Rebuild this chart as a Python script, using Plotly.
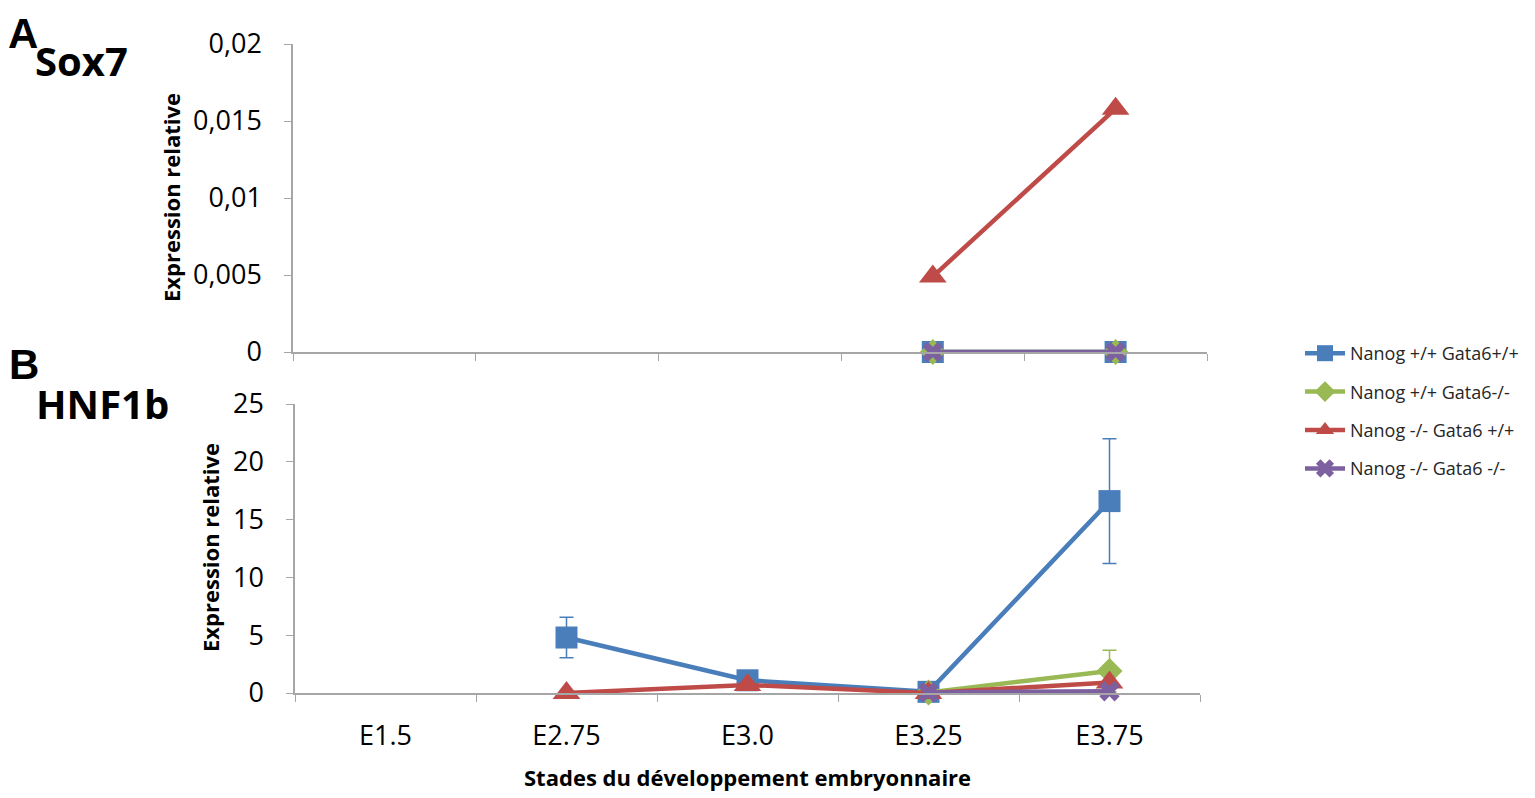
import plotly.graph_objects as go

stages = ["E1.5", "E2.75", "E3.0", "E3.25", "E3.75"]

# Sox7 (panel A)
sox7_stages = ["E3.25", "E3.75"]
sox7_wt = [0, 0]
sox7_gata6_ko = [0, 0]
sox7_nanog_ko = [0.0049, 0.0158]
sox7_double_ko = [0, 0]

# HNF1b (panel B)
hnf_wt_stages = ["E2.75", "E3.0", "E3.25", "E3.75"]
hnf_wt = [4.8, 1.1, 0.1, 16.6]
hnf_wt_err = [1.75, 0, 0, 5.4]
hnf_gata6_ko_stages = ["E3.25", "E3.75"]
hnf_gata6_ko = [0.05, 1.9]
hnf_gata6_ko_err = [0, 1.8]
hnf_nanog_ko_stages = ["E2.75", "E3.0", "E3.25", "E3.75"]
hnf_nanog_ko = [0, 0.7, 0, 0.9]
hnf_double_ko_stages = ["E3.25", "E3.75"]
hnf_double_ko = [0.05, 0.15]

names = ["Nanog +/+ Gata6+/+", "Nanog +/+ Gata6-/-", "Nanog -/- Gata6 +/+", "Nanog -/- Gata6 -/-"]
colors = ["#4a7ebb", "#98b954", "#be4b48", "#7d60a0"]
symbols = ["square", "diamond", "triangle-up", "x"]
msizes = [22, 20, 24, 18]

FONT = "Open Sans"
AXIS_COLOR = "#a6a6a6"
W, H = 1535, 798
OFF = 8  # page body margin


def px(x):
    return (x - OFF) / W


def py(y):
    return 1 - (y - OFF) / H


fig = go.Figure()


def add_series(x, y, i, xa, ya, err=None, legend=False):
    fig.add_trace(go.Scatter(
        x=x, y=y, mode="lines+markers", name=names[i],
        xaxis=xa, yaxis=ya, cliponaxis=False,
        line=dict(color=colors[i], width=4.5),
        marker=dict(symbol=symbols[i], size=msizes[i], color=colors[i],
                    line=dict(width=0)),
        error_y=dict(type="data", array=err, color=colors[i], thickness=1.5, width=7,
                     visible=err is not None),
        showlegend=legend, legendgroup=str(i),
    ))


# panel A
add_series(sox7_stages, sox7_wt, 0, "x", "y")
add_series(sox7_stages, sox7_gata6_ko, 1, "x", "y")
add_series(sox7_stages, sox7_nanog_ko, 2, "x", "y")
add_series(sox7_stages, sox7_double_ko, 3, "x", "y")

# panel B
add_series(hnf_wt_stages, hnf_wt, 0, "x2", "y2", hnf_wt_err, True)
add_series(hnf_gata6_ko_stages, hnf_gata6_ko, 1, "x2", "y2", hnf_gata6_ko_err, True)
add_series(hnf_nanog_ko_stages, hnf_nanog_ko, 2, "x2", "y2", None, True)
add_series(hnf_double_ko_stages, hnf_double_ko, 3, "x2", "y2", None, True)

xcommon = dict(
    type="category", categoryorder="array", categoryarray=stages,
    range=[-0.5, 4.5], showline=True, linecolor=AXIS_COLOR, linewidth=1.5,
    ticks="outside", tickson="boundaries", ticklen=7, tickcolor=AXIS_COLOR,
    showgrid=False, zeroline=False, automargin=False,
    tickfont=dict(family=FONT, size=27, color="#000"),
)
ycommon = dict(
    showline=True, linecolor=AXIS_COLOR, linewidth=1.5,
    ticks="outside", ticklen=7, tickcolor=AXIS_COLOR,
    showgrid=False, zeroline=False, automargin=False,
    tickfont=dict(family=FONT, size=27, color="#000"),
)

fig.update_layout(
    width=W, height=H,
    margin=dict(l=0, r=0, t=0, b=0, autoexpand=False),
    paper_bgcolor="white", plot_bgcolor="white",
    separators=", ",
    xaxis=dict(xcommon, domain=[px(293), px(1207)], anchor="y", showticklabels=False),
    yaxis=dict(ycommon, domain=[py(352), py(44)], anchor="x",
               range=[0, 0.02], dtick=0.005, ticklabelstandoff=17),
    xaxis2=dict(xcommon, domain=[px(295), px(1200)], anchor="y2", ticklabelstandoff=18),
    yaxis2=dict(ycommon, domain=[py(693), py(404)], anchor="x2",
                range=[0, 25], dtick=5, ticklabelstandoff=17),
    legend=dict(
        x=px(1300), y=py(335), xanchor="left", yanchor="top",
        font=dict(family=FONT, size=18, color="#262626"),
        tracegroupgap=12, itemwidth=40, bgcolor="rgba(0,0,0,0)",
    ),
    showlegend=True,
)

labels = [
    dict(text="<b>A</b>", x=-2, y=0, yanchor="top", font="Liberation Sans", size=42),
    dict(text="<b>Sox7</b>", x=25, y=52, yanchor="middle", font=FONT, size=40),
    dict(text="<b>B</b>", x=-1, y=356, yanchor="middle", font="Liberation Sans", size=42),
    dict(text="<b>HNF1b</b>", x=26, y=395, yanchor="middle", font=FONT, size=40),
]
for a in labels:
    fig.add_annotation(text=a["text"], x=a["x"] / W, y=1 - a["y"] / H, xref="paper", yref="paper",
                       xanchor="left", yanchor=a["yanchor"], showarrow=False,
                       font=dict(family=a["font"], size=a["size"], color="#000"))

for cx, cy in [(171, 198), (210, 548)]:
    fig.add_annotation(text="<b>Expression relative</b>", x=px(cx), y=py(cy), xref="paper", yref="paper",
                       xanchor="center", yanchor="middle", textangle=-90, showarrow=False,
                       font=dict(family=FONT, size=22, color="#000"))
fig.add_annotation(text="<b>Stades du développement embryonnaire</b>", x=px(747), y=py(777),
                   xref="paper", yref="paper", xanchor="center", yanchor="middle", showarrow=False,
                   font=dict(family=FONT, size=22, color="#000"))

fig.write_html("out.html")
